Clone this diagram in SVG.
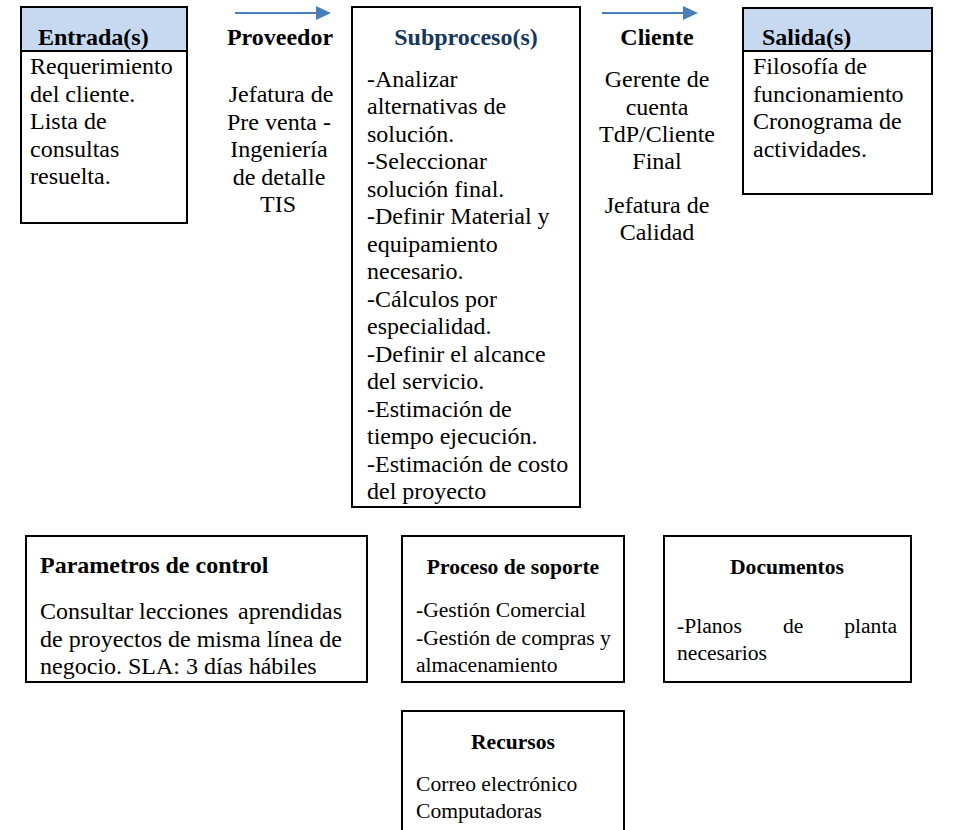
<svg xmlns="http://www.w3.org/2000/svg" width="969" height="830" viewBox="0 0 969 830">
  <style>
    text { font-family: "Liberation Serif", "DejaVu Serif", serif; font-size: 24px; fill: #000; }
    .h { font-weight: bold; }
    .mid { text-anchor: middle; }
    .sm { font-size: 21.6px; }
    .navy { fill: #17375e; }
    .box { fill: #fff; stroke: #000; stroke-width: 2; }
    .cap { fill: #c6d9f1; stroke: none; }
    .rule { stroke: #000; stroke-width: 2; }
    .flow { stroke: #4a7ebb; stroke-width: 2; fill: none; }
  </style>
  <defs>
    <marker id="tip" markerUnits="userSpaceOnUse" markerWidth="16" markerHeight="16" refX="0" refY="7" orient="auto">
      <path d="M0,0 L15,7 L0,14 z" fill="#4a7ebb"/>
    </marker>
  </defs>
  <rect width="969" height="830" fill="#fff"/>

  <!-- flow arrows -->
  <g id="connectors">
    <line class="flow" x1="235" y1="13" x2="316" y2="13" marker-end="url(#tip)"/>
    <line class="flow" x1="602" y1="13" x2="683" y2="13" marker-end="url(#tip)"/>
  </g>

  <!-- inputs -->
  <g id="entradas">
    <rect class="box" x="21" y="7" width="166" height="216"/>
    <rect class="cap" x="22" y="8" width="164" height="43"/>
    <line class="rule" x1="21" y1="51" x2="187" y2="51"/>
    <text class="h" x="38" y="45">Entrada(s)</text>
    <text x="30" y="74">Requerimiento</text>
    <text x="30" y="101.5">del cliente.</text>
    <text x="30" y="129">Lista de</text>
    <text x="30" y="156.5">consultas</text>
    <text x="30" y="184">resuelta.</text>
  </g>

  <!-- supplier -->
  <g id="proveedor">
    <text class="h mid" x="280" y="45">Proveedor</text>
    <text class="mid" x="281" y="102">Jefatura de</text>
    <text class="mid" x="279" y="129.5">Pre venta -</text>
    <text class="mid" x="279" y="157">Ingeniería</text>
    <text class="mid" x="279" y="184.5">de detalle</text>
    <text class="mid" x="278" y="212">TIS</text>
  </g>

  <!-- sub-processes -->
  <g id="subproceso">
    <rect class="box" x="352" y="7" width="228" height="500"/>
    <text class="h mid navy" x="466" y="45">Subproceso(s)</text>
    <text x="367" y="86.5">-Analizar</text>
    <text x="367" y="114">alternativas de</text>
    <text x="367" y="141.5">solución.</text>
    <text x="367" y="169">-Seleccionar</text>
    <text x="367" y="196.5">solución final.</text>
    <text x="367" y="224">-Definir Material y</text>
    <text x="367" y="251.5">equipamiento</text>
    <text x="367" y="279">necesario.</text>
    <text x="367" y="306.5">-Cálculos por</text>
    <text x="367" y="334">especialidad.</text>
    <text x="367" y="361.5">-Definir el alcance</text>
    <text x="367" y="389">del servicio.</text>
    <text x="367" y="416.5">-Estimación de</text>
    <text x="367" y="444">tiempo ejecución.</text>
    <text x="367" y="471.5">-Estimación de costo</text>
    <text x="367" y="499">del proyecto</text>
  </g>

  <!-- customer -->
  <g id="cliente">
    <text class="h mid" x="657" y="45">Cliente</text>
    <text class="mid" x="657" y="87">Gerente de</text>
    <text class="mid" x="657" y="114.5">cuenta</text>
    <text class="mid" x="657" y="142">TdP/Cliente</text>
    <text class="mid" x="657" y="169">Final</text>
    <text class="mid" x="657" y="213">Jefatura de</text>
    <text class="mid" x="657" y="240">Calidad</text>
  </g>

  <!-- outputs -->
  <g id="salidas">
    <rect class="box" x="743" y="8" width="189" height="186"/>
    <rect class="cap" x="744" y="9" width="187" height="42"/>
    <line class="rule" x1="743" y1="51" x2="932" y2="51"/>
    <text class="h" x="762" y="45">Salida(s)</text>
    <text x="753" y="74">Filosofía de</text>
    <text x="753" y="101.5">funcionamiento</text>
    <text x="753" y="129">Cronograma de</text>
    <text x="753" y="156.5">actividades.</text>
  </g>

  <!-- control parameters -->
  <g id="parametros">
    <rect class="box" x="26" y="536" width="341" height="146"/>
    <text class="h" x="40" y="573">Parametros de control</text>
    <text x="40" y="619">Consultar</text>
    <text x="139" y="619">lecciones</text>
    <text x="342" y="619" text-anchor="end">aprendidas</text>
    <text x="40" y="646.5" textLength="302" lengthAdjust="spacing">de proyectos de misma línea de</text>
    <text x="40" y="674">negocio. SLA: 3 días hábiles</text>
  </g>

  <!-- support process -->
  <g id="soporte">
    <rect class="box" x="402" y="536" width="222" height="146"/>
    <text class="h mid sm" x="513" y="574">Proceso de soporte</text>
    <text class="sm" x="416" y="617">-Gestión Comercial</text>
    <text class="sm" x="416" y="644.5">-Gestión de compras y</text>
    <text class="sm" x="416" y="672">almacenamiento</text>
  </g>

  <!-- documents -->
  <g id="documentos">
    <rect class="box" x="664" y="536" width="247" height="146"/>
    <text class="h mid sm" x="787" y="574">Documentos</text>
    <text class="sm" x="677" y="633">-Planos</text>
    <text class="sm" x="783" y="633">de</text>
    <text class="sm" x="897" y="633" text-anchor="end">planta</text>
    <text class="sm" x="677" y="660">necesarios</text>
  </g>

  <!-- resources -->
  <g id="recursos">
    <rect class="box" x="402" y="711" width="222" height="140"/>
    <text class="h mid sm" x="513" y="749">Recursos</text>
    <text class="sm" x="416" y="791">Correo electrónico</text>
    <text class="sm" x="416" y="818">Computadoras</text>
  </g>
</svg>
